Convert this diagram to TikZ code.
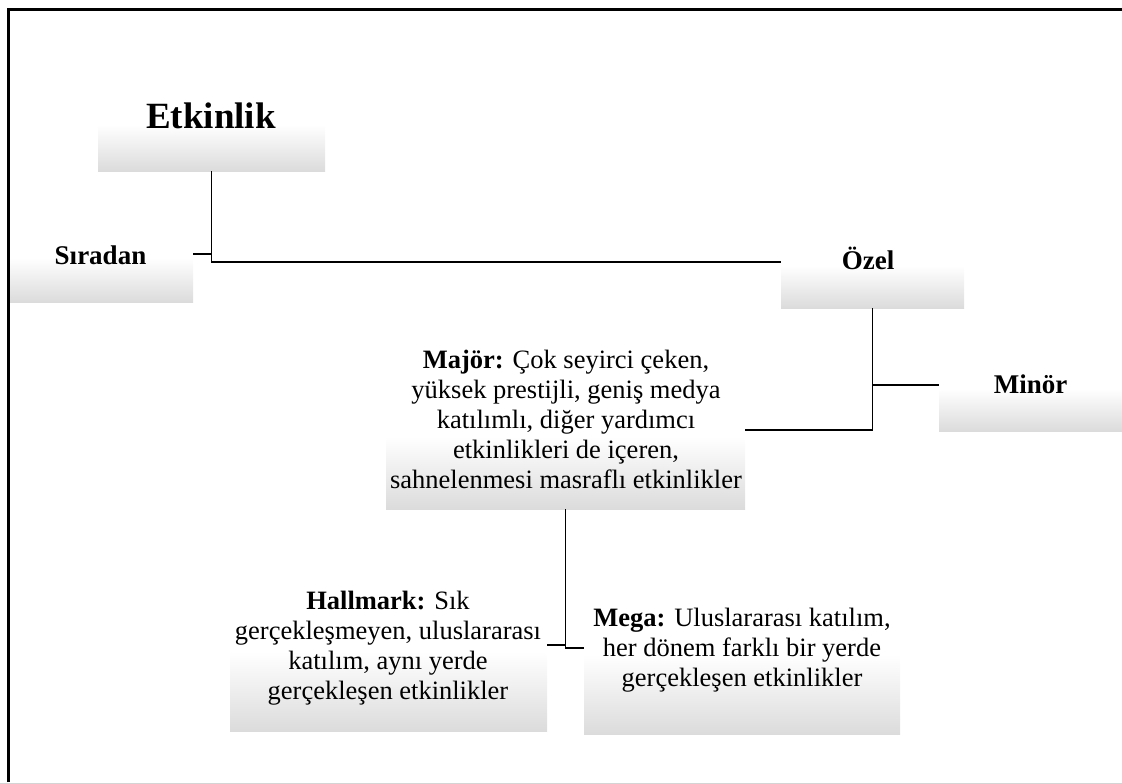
\documentclass[tikz,border=0pt]{standalone}
\usepackage{fontspec}
\setmainfont{Liberation Serif}
\pgfdeclareverticalshading{boxshade}{100bp}{color(0bp)=(black!14); color(25bp)=(black!14); color(48bp)=(white); color(100bp)=(white)}
\begin{document}
\begin{tikzpicture}[x=1pt,y=-1pt,
  box/.style={rectangle, shading=boxshade, draw=none, inner sep=0pt},
  txt/.style={font=\fontsize{26.5}{30}\selectfont, align=center, inner sep=0pt},
  bold/.style={font=\bfseries\fontsize{27}{30}\selectfont, inner sep=0pt},
  conn/.style={line width=1.2pt}]
\useasboundingbox (0,0) rectangle (1122,782);
% boxes
\node[box, minimum width=227pt, minimum height=101pt] (etk) at (211.5,120.5) {};
\node[box, minimum width=184pt, minimum height=96pt] (sir) at (101,254) {};
\node[box, minimum width=183pt, minimum height=92pt] (ozel) at (872.5,262) {};
\node[box, minimum width=183pt, minimum height=92pt] (min) at (1030.5,385) {};
\node[box, minimum width=359pt, minimum height=158pt] (maj) at (565.5,430) {};
\node[box, minimum width=317pt, minimum height=172pt] (hal) at (388.5,645) {};
\node[box, minimum width=316pt, minimum height=172pt] (mega) at (742,648) {};
% texts
\node[font=\bfseries\fontsize{37}{44}\selectfont, inner sep=0pt, anchor=base] (etkT) at (211,128) {Etkinlik};
\node[bold, anchor=base] (sirT) at (100.5,264) {Sıradan};
\node[bold, anchor=base] (ozelT) at (868,269) {Özel};
\node[bold, anchor=base] (minT) at (1030.5,393) {Minör};
\node[txt] (majT) at (566,419) {\textbf{Majör:} Çok seyirci çeken,\\yüksek prestijli, geniş medya\\katılımlı, diğer yardımcı\\etkinlikleri de içeren,\\sahnelenmesi masraflı etkinlikler};
\node[txt] (halT) at (388,648) {\textbf{Hallmark:} Sık\\gerçekleşmeyen, uluslararası\\katılım, aynı yerde\\gerçekleşen etkinlikler};
\node[txt] (megaT) at (742,650) {\textbf{Mega:} Uluslararası katılım,\\her dönem farklı bir yerde\\gerçekleşen etkinlikler};
% connectors
\draw[conn] (etk.south) |- (ozel.west);
\draw[conn] (sir.east) -- (sir.east -| etk.south);
\draw[conn] (ozel.south) |- (min.west);
\draw[conn] (ozel.south) |- (maj.east);
\draw[conn] (maj.south) |- (mega.west);
\draw[conn] (hal.east) -- (hal.east -| maj.south);
% frame
\draw[line width=3pt] (8,782) -- (8,9) -- (1122,9);
\end{tikzpicture}
\end{document}
